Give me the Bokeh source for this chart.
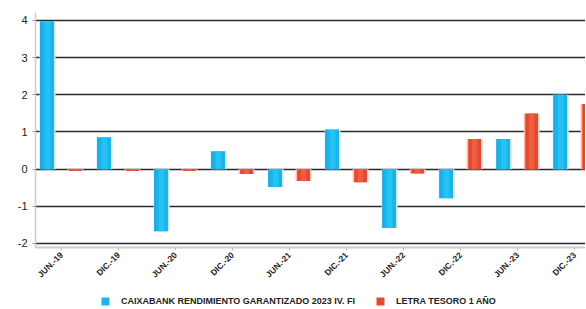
from math import pi
from bokeh.plotting import figure
from bokeh.layouts import column
from bokeh.models import Range1d, FixedTicker, Legend, LegendItem, ColumnDataSource
from bokeh.embed import file_html
from bokeh.resources import INLINE

categories = ["JUN.-19", "DIC.-19", "JUN.-20", "DIC.-20", "JUN.-21",
              "DIC.-21", "JUN.-22", "DIC.-22", "JUN.-23", "DIC.-23"]
fund = [3.98, 0.86, -1.67, 0.48, -0.48, 1.07, -1.58, -0.78, 0.81, 2.0]
letra = [-0.05, -0.05, -0.05, -0.13, -0.32, -0.35, -0.12, 0.81, 1.5, 1.75]
y_ticks = [-2, -1, 0, 1, 2, 3, 4]
series_names = ["CAIXABANK RENDIMIENTO GARANTIZADO 2023 IV. FI", "LETRA TESORO 1 AÑO"]
colors = ["#18b4ea", "#e2492f"]

idx = list(range(len(categories)))
off = 0.245
bw = 0.28

p = figure(width=585, height=292, output_backend="svg",
           toolbar_location=None, x_range=Range1d(-0.456, 9.19),
           y_range=Range1d(-2.108, 4.215),
           min_border_left=35, min_border_right=0, min_border_top=12,
           min_border_bottom=45, background_fill_color="white",
           border_fill_color="white", outline_line_color=None)

src_f = ColumnDataSource(dict(x=[i - off for i in idx], top=fund))
src_l = ColumnDataSource(dict(x=[i + off for i in idx], top=letra))

# blue series: halo, body, highlight, dark edge
p.vbar(x="x", top="top", bottom=0, width=bw, source=src_f,
       fill_color="#bfe9fb", line_color=None)
p.vbar(x="x", top="top", bottom=0, width=bw * 0.8, source=src_f,
       fill_color=colors[0], line_color=None)
p.vbar(x="x", top="top", bottom=0, width=bw * 0.35, source=src_f,
       fill_color="#2cc6f6", line_color=None, fill_alpha=0.8)
p.vbar(x=[i - off - bw * 0.42 for i in idx], top=fund, bottom=0, width=0.02,
       fill_color="#0a86cc", line_color=None)

# red series
p.vbar(x="x", top="top", bottom=0, width=bw, source=src_l,
       fill_color="#f5c3b6", line_color=None)
p.vbar(x="x", top="top", bottom=0, width=bw * 0.8, source=src_l,
       fill_color=colors[1], line_color=None)
p.vbar(x="x", top="top", bottom=0, width=bw * 0.35, source=src_l,
       fill_color="#ee6446", line_color=None, fill_alpha=0.8)

# grid
p.xgrid.grid_line_color = None
p.ygrid.ticker = FixedTicker(ticks=y_ticks)
p.ygrid.grid_line_color = "#2a2a2a"
p.ygrid.grid_line_width = 1.4

# axes
p.yaxis.ticker = FixedTicker(ticks=y_ticks)
p.yaxis.major_label_overrides = {t: str(t) for t in y_ticks}
p.yaxis.axis_line_color = "#cccccc"
p.yaxis.axis_line_width = 1.5
p.yaxis.major_tick_line_color = "#999999"
p.yaxis.major_tick_out = 3
p.yaxis.major_tick_in = 0
p.yaxis.minor_tick_line_color = None
p.yaxis.major_label_text_font = "Liberation Sans"
p.yaxis.major_label_text_font_size = "11px"
p.yaxis.major_label_text_color = "#222222"
p.yaxis.major_label_standoff = 5

p.xaxis.ticker = FixedTicker(ticks=idx)
p.xaxis.major_label_overrides = {i: c for i, c in zip(idx, categories)}
p.xaxis.major_label_orientation = pi / 4
p.xaxis.axis_line_color = "#cccccc"
p.xaxis.axis_line_width = 2
p.xaxis.major_tick_line_color = "#bbbbbb"
p.xaxis.major_tick_out = 3
p.xaxis.major_tick_in = 0
p.xaxis.minor_tick_line_color = None
p.xaxis.major_label_text_font = "Liberation Sans"
p.xaxis.major_label_text_font_style = "bold"
p.xaxis.major_label_text_font_size = "8.5px"
p.xaxis.major_label_text_color = "#222222"
p.xaxis.major_label_standoff = 3

# legend strip
lf = figure(width=585, height=17, output_backend="svg", toolbar_location=None,
            x_range=Range1d(-0.456, 9.19), y_range=Range1d(-2.108, 4.215),
            x_axis_location=None, y_axis_location=None,
            min_border=0, outline_line_color=None)
lf.xgrid.grid_line_color = None
lf.ygrid.grid_line_color = None
lr_f = lf.vbar(x="x", top="top", width=bw, source=src_f,
               fill_color=colors[0], line_color=None, visible=False)
lr_l = lf.vbar(x="x", top="top", width=bw, source=src_l,
               fill_color=colors[1], line_color=None, visible=False)
legend = Legend(items=[LegendItem(label=series_names[0], renderers=[lr_f]),
                       LegendItem(label=series_names[1], renderers=[lr_l])],
                orientation="horizontal", location=(65, 3),
                label_text_font="Liberation Sans", label_text_font_style="bold",
                label_text_font_size="9px", label_text_color="#222222",
                glyph_width=10, glyph_height=10, label_standoff=11, spacing=20,
                padding=0, margin=0, border_line_color=None,
                background_fill_alpha=0, label_height=10)
lf.add_layout(legend)

layout = column(p, lf, spacing=0)
open("out.html", "w").write(file_html(layout, INLINE))
